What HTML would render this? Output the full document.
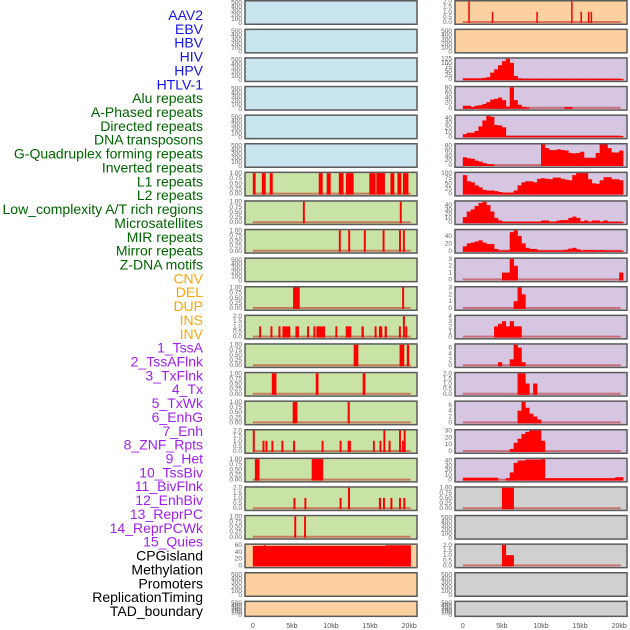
<!DOCTYPE html>
<html><head><meta charset="utf-8">
<style>
html,body{margin:0;padding:0;background:#fff;}
svg{display:block;font-family:"Liberation Sans",sans-serif;}
</style></head>
<body>
<svg id="chart" width="630" height="630" viewBox="0 0 630 630" xmlns="http://www.w3.org/2000/svg"></svg>
<script>
// ---------- labels ----------
const labelNames = ["AAV2","EBV","HBV","HIV","HPV","HTLV-1","Alu repeats","A-Phased repeats","Directed repeats","DNA transposons","G-Quadruplex forming repeats","Inverted repeats","L1 repeats","L2 repeats","Low_complexity A/T rich regions","Microsatellites","MIR repeats","Mirror repeats","Z-DNA motifs","CNV","DEL","DUP","INS","INV","1_TssA","2_TssAFlnk","3_TxFlnk","4_Tx","5_TxWk","6_EnhG","7_Enh","8_ZNF_Rpts","9_Het","10_TssBiv","11_BivFlnk","12_EnhBiv","13_ReprPC","14_ReprPCWk","15_Quies","CPGisland","Methylation","Promoters","ReplicationTiming","TAD_boundary"];
const labelGroupSizes = [6,13,5,15,5];
const labelGroupColors = ["#1414e6","#006400","#ffa500","#a020f0","#000000"];

// ---------- x axis ----------
const xTickValues = [0,5,10,15,20];
const xTickLabels = ["0","5kb","10kb","15kb","20kb"];

// ---------- tick sets ----------
const ticksEmpty = ["0","100","200","300","400","500"];
const ticksUnit = ["0.00","0.25","0.50","0.75","1.00"];
const ticksTwo = ["0.0","0.5","1.0","1.5","2.0"];
const ticksCpg = ["0","20","40","60"];

// ---------- left column segments [startKb, endKb, value] ----------
const segL1 = [[0,0.35,1],[1.15,1.66,1],[2.17,2.55,1],[8.43,8.94,1],[9.45,9.96,1],[11.0,11.6,1],[11.9,12.9,1],[14.9,15.7,1],[15.8,16.9,1],[17.6,18.1,1],[18.5,19.0,1],[19.2,19.9,1]];
const segRow7 = [[6.4,6.65,1],[18.8,19.05,1]];
const segRow8 = [[11.0,11.25,1],[12.2,12.45,1],[14.2,14.45,1],[16.6,16.85,1],[18.7,18.95,1],[19.2,19.45,1]];
const segRow10 = [[5.15,6.0,1],[19.1,19.35,1]];
const segRow11 = [[0.81,1.06,1],[2.26,2.51,1],[3.28,3.54,1],[3.79,4.8,1],[5.45,5.9,1],[6.94,7.19,1],[7.75,8.0,1],[8.13,9.24,1],[10.56,10.81,1],[11.88,12.6,1],[13.9,14.2,1],[15.58,15.83,1],[16.13,16.56,1],[16.86,17.15,1],[18.68,18.94,1],[19.2,19.45,2],[19.5,19.75,1]];
const segRow12 = [[12.9,13.5,1],[18.77,19.37,1],[19.7,20.0,1]];
const segRow13 = [[2.43,3.02,1],[8.05,8.4,1],[14.05,14.4,1]];
const segRow14 = [[5.1,5.7,1],[12.13,12.4,1]];
const segRow15 = [[0,0.25,2],[1.24,1.49,1],[1.62,1.87,1],[2.38,2.63,1],[3.66,3.91,1],[5.15,5.4,1],[8.8,9.05,1],[11.1,11.35,1],[12.13,12.55,1],[15.37,15.6,1],[16.2,16.45,1],[16.7,16.95,2],[17.37,17.62,1],[18.7,18.95,2],[19.07,19.3,1],[19.3,19.55,2]];
const segRow16 = [[0.26,0.86,1],[7.53,9.0,1]];
const segRow17 = [[5.2,5.45,1],[6.6,6.85,1],[11.1,11.35,1],[12.17,12.43,2],[16.13,16.4,1],[16.65,16.9,1],[17.6,17.85,1],[18.7,18.95,1],[19.25,19.5,1]];
const segRow18 = [[5.3,5.55,1],[6.56,6.8,1]];
const segCpg = [[0,20.2,58],[1.4,1.6,61],[17,20.2,60]];
const segRight0 = [[0.7,0.85,2],[3.7,3.85,1],[9.4,9.55,1],[13.85,14.0,2],[15.05,15.2,1],[16.0,16.15,1],[16.35,16.5,1]];

// ---------- right column histograms (0.5kb bins from 0kb) ----------
const binsHIV = [5,5,5,5,5,8,12,40,60,85,110,125,100,20,5,2,2,2,2,2,2,2,2,2,2,2,2,2,2,2,2,2,2,2,2,2,2,2,2,2,2];
const binsHPV = [8,8,3,8,10,15,22,32,35,40,30,5,80,30,12,4,1,0,0,0,0,0,0,0,0,0,3,3,0,0,0,0,0,0,0,0,0,0,0,0,0];
const binsRow4 = [5,8,8,12,22,35,45,43,25,24,20,1,1,1,1,1,1,1,1,1,1,1,1,1,1,1,1,1,1,1,1,1,1,1,1,1,1,1,1,1,1];
const binsRow5 = [32,28,26,18,14,8,4,3,0,0,0,0,0,0,0,0,0,0,0,0,85,70,62,62,65,62,60,50,48,50,55,30,30,30,50,85,85,70,52,52,60];
const binsRow6 = [90,60,55,40,30,18,15,15,12,8,5,5,5,15,40,55,60,60,55,72,75,72,70,78,78,72,68,65,90,100,100,100,70,50,48,65,80,80,70,70,65];
const binsRow7 = [12,25,30,38,45,48,40,25,10,4,1,1,1,1,1,1,1,1,1,1,4,4,1,1,4,5,5,10,13,10,2,4,1,4,4,1,4,1,1,1,1];
const binsRow8 = [12,20,22,25,28,22,18,18,5,1,1,1,50,55,40,20,8,5,5,1,1,1,1,1,1,1,3,6,8,4,1,2,2,2,1,2,1,1,1,1,1];
const binsRow9 = [0,0,0,0,0,0,0,0,0,0,1,1,3,2,0,0,0,0,0,0,0,0,0,0,0,0,0,0,0,0,0,0,0,0,0,0,0,0,0,0,1];
const binsRow10 = [0,0,0,0,0,0,0,0,0,0,0,0,0,1,3,2,0,0,0,0,0,0,0,0,0,0,0,0,0,0,0,0,0,0,0,0,0,0,0,0,0];
const binsRow11 = [0,0,0,0,0,0,0,0,2,2.5,3,2,3,2,2,0,0,0,0,0,0,0,0,0,0,0,0,0,0,0,0,0,0,0,0,0,0,0,0,0,0];
const binsRow12 = [0,0,0,0,0,0,0,0,0,1,0,0,2,7,6,1,0,0,0,0,0,0,0,0,0,0,0,0,0,0,0,0,0,0,0,0,0,0,0,0,0];
const binsRow13 = [0,0,0,0,0,0,0,0,0,0,0,0,0,0,2,2,1,0,1,0,0,0,0,0,0,0,0,0,0,0,0,0,0,0,0,0,0,0,0,0,0];
const binsRow14 = [0,0,0,0,0,0,0,0,0,0,0,0,0,0,4,7,5,3,2,1,0,0,0,0,0,0,0,0,0,0,0,0,0,0,0,0,0,0,0,0,0];
const binsRow15 = [0,0,0,0,0,0,0,0,0,0,0,0,3,12,18,25,28,30,30,30,15,0,0,0,0,0,0,0,0,0,0,0,0,0,0,0,0,0,0,0,0];
const binsRow16 = [4,4,4,4,4,4,4,4,4,0,0,3,15,35,40,40,42,42,42,42,43,3,3,3,3,3,3,3,3,3,3,3,3,3,3,3,3,3,3,5,5];
const binsRow17 = [0,0,0,0,0,0,0,0,0,0,1,1,1,0,0,0,0,0,0,0,0,0,0,0,0,0,0,0,0,0,0,0,0,0,0,0,0,0,0,0,0];
const binsRow19 = [0,0,0,0,0,0,0,0,0,0,2,1,1,0,0,0,0,0,0,0,0,0,0,0,0,0,0,0,0,0,0,0,0,0,0,0,0,0,0,0,0];

// panel background colours
const BLUE="#c8e4ec", GREEN="#c9e2a5", ORANGE="#fdd09f", PURPLE="#d6c6e1", GRAY="#d0d0d0";

const leftRows = [
 {bg:BLUE,ticks:ticksEmpty,empty:true},{bg:BLUE,ticks:ticksEmpty,empty:true},{bg:BLUE,ticks:ticksEmpty,empty:true},
 {bg:BLUE,ticks:ticksEmpty,empty:true},{bg:BLUE,ticks:ticksEmpty,empty:true},{bg:BLUE,ticks:ticksEmpty,empty:true},
 {bg:GREEN,ticks:ticksUnit,segs:segL1},{bg:GREEN,ticks:ticksUnit,segs:segRow7},{bg:GREEN,ticks:ticksUnit,segs:segRow8},
 {bg:GREEN,ticks:ticksEmpty,empty:true},{bg:GREEN,ticks:ticksUnit,segs:segRow10},{bg:GREEN,ticks:ticksTwo,segs:segRow11},
 {bg:GREEN,ticks:ticksUnit,segs:segRow12},{bg:GREEN,ticks:ticksUnit,segs:segRow13},{bg:GREEN,ticks:ticksUnit,segs:segRow14},
 {bg:GREEN,ticks:ticksTwo,segs:segRow15},{bg:GREEN,ticks:ticksUnit,segs:segRow16},{bg:GREEN,ticks:ticksTwo,segs:segRow17},
 {bg:GREEN,ticks:ticksUnit,segs:segRow18},{bg:ORANGE,ticks:ticksCpg,segs:segCpg},{bg:ORANGE,ticks:ticksEmpty,empty:true},
 {bg:ORANGE,ticks:ticksEmpty,empty:true}
];
const rightRows = [
 {bg:ORANGE,ticks:ticksTwo,segs:segRight0},{bg:ORANGE,ticks:ticksEmpty,empty:true},
 {bg:PURPLE,ticks:["0","25","50","75","100","125"],bins:binsHIV},{bg:PURPLE,ticks:["0","20","40","60","80"],bins:binsHPV},
 {bg:PURPLE,ticks:["0","10","20","30","40"],bins:binsRow4},{bg:PURPLE,ticks:["0","20","40","60","80"],bins:binsRow5},
 {bg:PURPLE,ticks:["0","25","50","75","100"],bins:binsRow6},{bg:PURPLE,ticks:["0","10","20","30","40"],bins:binsRow7},
 {bg:PURPLE,ticks:["0","20","40"],bins:binsRow8},{bg:PURPLE,ticks:["0","1","2","3"],bins:binsRow9},
 {bg:PURPLE,ticks:["0","1","2","3"],bins:binsRow10},{bg:PURPLE,ticks:["0","1","2","3","4"],bins:binsRow11},
 {bg:PURPLE,ticks:["0","2","4","6"],bins:binsRow12},{bg:PURPLE,ticks:ticksTwo,bins:binsRow13},
 {bg:PURPLE,ticks:["0","2","4","6"],bins:binsRow14},{bg:PURPLE,ticks:["0","10","20","30"],bins:binsRow15},
 {bg:PURPLE,ticks:["0","10","20","30","40"],bins:binsRow16},{bg:GRAY,ticks:ticksUnit,bins:binsRow17},
 {bg:GRAY,ticks:ticksEmpty,empty:true},{bg:GRAY,ticks:ticksTwo,bins:binsRow19},
 {bg:GRAY,ticks:ticksEmpty,empty:true},{bg:GRAY,ticks:ticksEmpty,empty:true}
];

const NS="http://www.w3.org/2000/svg";
const svg=document.getElementById('chart');
function mk(tag,attrs,parent){const e=document.createElementNS(NS,tag);for(const k in attrs)e.setAttribute(k,attrs[k]);(parent||svg).appendChild(e);return e;}

// labels
const lg=mk('g',{});


let gi=0,cnt=0;
labelNames.forEach((n,i)=>{
  while(cnt>=labelGroupSizes[gi]){cnt-=labelGroupSizes[gi];gi++;}
  cnt++;
  const t=mk('text',{x:203,y:20+i*13.86,'text-anchor':'end','font-size':'14',fill:labelGroupColors[gi]},lg);
  t.textContent=n;
  
  
});

const PW=172;
function xScale(px0,kb){return px0+(kb+1)*PW/22;}
function rowTop(i){return i*28.6;}
function rowH(i){return i===21?16.5:25;}

function drawPanel(row,i,px0,col){
  const top=rowTop(i),h=rowH(i);
  const g=mk('g',{});
  
  
  mk('rect',{x:px0,y:top+0.75,width:PW,height:h-1.5,fill:row.bg,stroke:'#5a5a5a','stroke-width':1.5},g);
  const tickMax=parseFloat(row.ticks[row.ticks.length-1]);
  let dom=tickMax;
  if(row.segs)row.segs.forEach(s=>{if(s[2]>dom)dom=s[2];});
  if(row.bins)row.bins.forEach(v=>{if(v>dom)dom=v;});
  const y0=top+h-3, y1=top+1.5;
  const yScale=v=>y0-v/dom*(y0-y1);
  // ticks
  const n=row.ticks.length;
  row.ticks.forEach((t,k)=>{
    let ty;
    if(row.empty){ty=y0+1-k*(y0-y1)/(n-1);} else {ty=yScale(parseFloat(t));}
    const tx=mk('text',{x:px0-3,y:ty+2,'text-anchor':'end','font-size':'6.5',fill:'#666'},g);
    tx.textContent=t;
    
    
  });
  if(row.empty)return;
  // baseline
  const bl=mk('line',{x1:xScale(px0,0),x2:xScale(px0,20.2),y1:y0,y2:y0,stroke:'rgba(190,40,40,0.55)','stroke-width':2},g);
  
  
  if(row.segs){
    row.segs.forEach(s=>{
      const xa=xScale(px0,s[0]),xb=xScale(px0,s[1]);
      const r=mk('rect',{x:xa,y:yScale(s[2]),width:Math.max(1.5,xb-xa),height:y0-yScale(s[2])+1,fill:'#ff0000'},g);
      
      
    });
  }
  if(row.bins){
    row.bins.forEach((v,b)=>{
      if(v<=0)return;
      const xa=xScale(px0,b*0.5),xb=xScale(px0,b*0.5+0.5);
      const r=mk('rect',{x:xa,y:yScale(v),width:xb-xa+0.3,height:y0-yScale(v)+1,fill:'#ff0000'},g);
      
      
    });
  }
}
leftRows.forEach((r,i)=>drawPanel(r,i,245,'left'));
rightRows.forEach((r,i)=>drawPanel(r,i,455,'right'));

// x axes
[245,455].forEach((px0,c)=>{
  xTickValues.forEach((v,k)=>{
    const t=mk('text',{x:xScale(px0,v),y:628,'text-anchor':'middle','font-size':'7',fill:'#555'});
    t.textContent=xTickLabels[k];
    
    
  });
});
</script>
</body></html>
